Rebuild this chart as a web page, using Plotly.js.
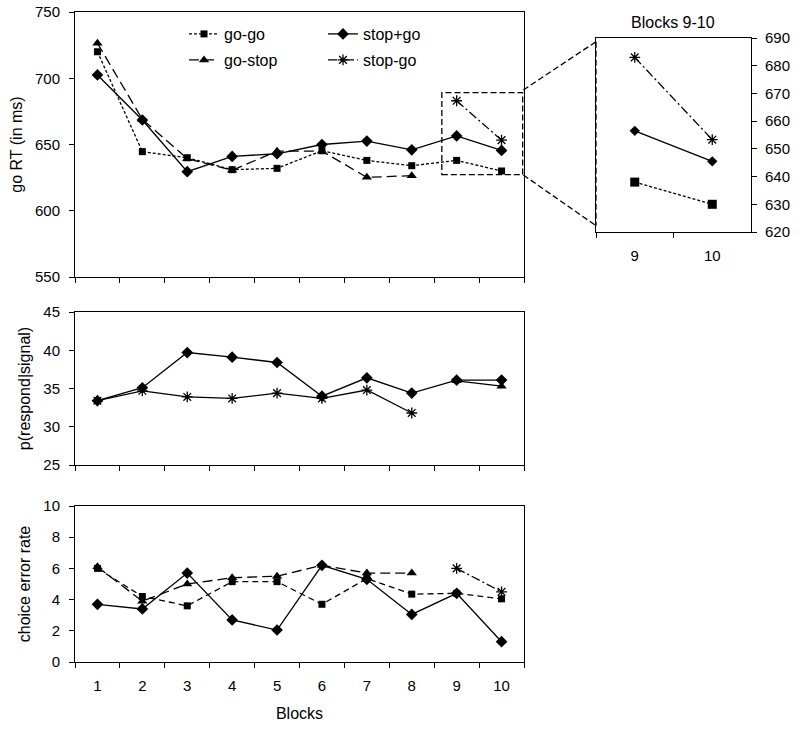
<!DOCTYPE html>
<html>
<head>
<meta charset="utf-8">
<script src="https://cdn.plot.ly/plotly-3.0.1.min.js"></script>
<style>html,body{margin:0;padding:0;background:#fff;}#chart{width:800px;height:731px;}</style>
</head>
<body>
<div id="chart"></div>
<script>
// ---- data ----
const blocks = ['1','2','3','4','5','6','7','8','9','10'];
const insetBlocks = ['9','10'];

// go RT (in ms)
const rtGoGo      = [720, 644.6, 640, 631, 632, 645.3, 638, 634, 638, 630];
const rtStopPlusGo= [702.5, 668.5, 629.5, 641, 643, 650, 652.6, 646, 656.5, 645.5];
const rtGoStop    = [726.4, 669, 639.3, 630.5, 645, 645, 625.2, 626.5, null, null];
const rtStopGo    = [null, null, null, null, null, null, null, null, 683, 653.3];

// p(respond|signal)
const pStopPlusGo = [33.4, 35.1, 39.7, 39.1, 38.4, 34.0, 36.4, 34.4, 36.1, 36.1];
const pStopGo     = [33.4, 34.7, 33.9, 33.7, 34.4, 33.7, 34.8, 31.8, null, null];
const pGoStop     = [null, null, null, null, null, null, null, null, 36.0, 35.3];

// choice error rate
const errGoGo      = [6.0, 4.2, 3.6, 5.15, 5.15, 3.7, 5.35, 4.35, 4.4, 4.05];
const errStopPlusGo= [3.7, 3.4, 5.7, 2.7, 2.05, 6.2, 5.3, 3.05, 4.4, 1.3];
const errGoStop    = [6.1, 3.9, 5.0, 5.4, 5.5, 6.2, 5.7, 5.7, null, null];
const errStopGo    = [null, null, null, null, null, null, null, null, 6.0, 4.5];

// ---- styles ----
const FONT = 'Arial, "Liberation Sans", sans-serif';
const W = 800, H = 731;
const px = x => x / W;
const py = y => 1 - y / H;

const sty = {
  gogo:    {dash: '3px,2px',   sym: 'square',        size: 7},
  stopgo2: {dash: 'solid',     sym: 'diamond',       size: 9},
  gostop:  {dash: '10px,5px',  sym: 'triangle-up',   size: 9},
  stopgo:  {dash: '9px,3px,2px,3px', sym: 'asterisk-open', size: 9}
};

function tr(name, x, y, s, xa, ya, opts) {
  opts = opts || {};
  const t = {
    type: 'scatter', mode: 'lines+markers', name: name,
    x: x, y: y, xaxis: xa, yaxis: ya,
    line: {color: '#000', width: 1.3, dash: opts.dash || s.dash},
    marker: {symbol: s.sym, size: opts.size || s.size, color: '#000',
             line: {color: '#000', width: s.sym === 'asterisk-open' ? 1.3 : 0}},
    connectgaps: false,
    showlegend: !!opts.legend,
    hoverinfo: 'x+y'
  };
  if (opts.legend) t.legend = opts.legend;
  return t;
}

const data = [
  // top panel
  tr('go-go', blocks, rtGoGo, sty.gogo, 'x', 'y', {legend: 'legend'}),
  tr('stop+go', blocks, rtStopPlusGo, sty.stopgo2, 'x', 'y', {legend: 'legend2'}),
  tr('go-stop', blocks, rtGoStop, sty.gostop, 'x', 'y', {legend: 'legend3'}),
  tr('stop-go', blocks, rtStopGo, sty.stopgo, 'x', 'y', {legend: 'legend4'}),
  // middle panel
  tr('stop+go', blocks, pStopPlusGo, sty.stopgo2, 'x2', 'y2', {dash: 'solid'}),
  tr('stop-go', blocks, pStopGo, sty.stopgo, 'x2', 'y2', {dash: 'solid'}),
  tr('go-stop', blocks, pGoStop, sty.gostop, 'x2', 'y2', {dash: 'solid'}),
  // bottom panel
  tr('go-go', blocks, errGoGo, sty.gogo, 'x3', 'y3', {dash: '6px,4px'}),
  tr('go-stop', blocks, errGoStop, sty.gostop, 'x3', 'y3'),
  tr('stop+go', blocks, errStopPlusGo, sty.stopgo2, 'x3', 'y3'),
  tr('stop-go', blocks, errStopGo, sty.stopgo, 'x3', 'y3'),
  // inset (blocks 9-10)
  tr('stop-go', insetBlocks, rtStopGo.slice(8), sty.stopgo, 'x4', 'y4'),
  tr('stop+go', insetBlocks, rtStopPlusGo.slice(8), sty.stopgo2, 'x4', 'y4', {size: 8}),
  tr('go-go', insetBlocks, rtGoGo.slice(8), sty.gogo, 'x4', 'y4', {size: 9})
];

const tickFont = {family: FONT, size: 15, color: '#000'};
const titleFont = {family: FONT, size: 16, color: '#000'};

function xax(domain, showLabels, anchor, cats, title) {
  const a = {
    domain: domain, anchor: anchor, type: 'category',
    categoryorder: 'array', categoryarray: cats,
    range: [-0.5, cats.length - 0.5],
    tickson: 'boundaries', ticks: 'outside', ticklen: 5, tickwidth: 1, tickcolor: '#000',
    ticklabelstandoff: 10,
    showline: true, linecolor: '#000', linewidth: 1, mirror: true,
    showgrid: false, zeroline: false, showticklabels: showLabels,
    tickfont: tickFont, fixedrange: true
  };
  if (title) a.title = {text: title, font: titleFont, standoff: 14};
  return a;
}
function yax(domain, range, dtick, anchor, title, side) {
  const a = {
    domain: domain, anchor: anchor, range: range, dtick: dtick, tick0: range[0],
    ticks: 'outside', ticklen: 5, tickwidth: 1, tickcolor: '#000',
    ticklabelstandoff: side === 'right' ? 5 : 6,
    showline: true, linecolor: '#000', linewidth: 1, mirror: true,
    showgrid: false, zeroline: false, tickfont: tickFont, fixedrange: true,
    side: side || 'left'
  };
  if (title) a.title = {text: title, font: titleFont, standoff: 8};
  return a;
}

const xd = [px(75), px(524)];
const legendCommon = {bgcolor: 'rgba(0,0,0,0)', borderwidth: 0, font: {family: FONT, size: 16, color: '#000'},
                      xanchor: 'left', yanchor: 'middle', orientation: 'v'};

const layout = {
  width: W, height: H,
  margin: {l: 0, r: 0, t: 0, b: 0},
  paper_bgcolor: '#fff', plot_bgcolor: '#fff',
  font: {family: FONT, size: 15, color: '#000'},
  xaxis:  xax(xd, false, 'y', blocks),
  yaxis:  yax([py(277), py(12)], [550, 750], 50, 'x', 'go RT (in ms)'),
  xaxis2: xax(xd, false, 'y2', blocks),
  yaxis2: yax([py(465), py(312)], [25, 45], 5, 'x2', 'p(respond|signal)'),
  xaxis3: xax(xd, true, 'y3', blocks, 'Blocks'),
  yaxis3: yax([py(662), py(506)], [0, 10], 2, 'x3', 'choice error rate'),
  xaxis4: xax([px(596), px(751)], true, 'y4', insetBlocks),
  yaxis4: yax([py(232), py(38)], [620, 690], 10, 'x4', null, 'right'),
  legend:  Object.assign({}, legendCommon, {x: px(184), y: py(34)}),
  legend2: Object.assign({}, legendCommon, {x: px(323), y: py(34)}),
  legend3: Object.assign({}, legendCommon, {x: px(184), y: py(60)}),
  legend4: Object.assign({}, legendCommon, {x: px(323), y: py(60)}),
  annotations: [
    {text: 'Blocks 9-10', xref: 'paper', yref: 'paper', x: px(673), y: py(22),
     xanchor: 'center', yanchor: 'middle', showarrow: false, font: titleFont}
  ],
  shapes: [
    // zoom box around blocks 9-10 in the top panel
    {type: 'rect', xref: 'x', yref: 'y', x0: 7.67, x1: 9.47, y0: 627.2, y1: 689.1,
     line: {color: '#000', width: 1.3, dash: '6px,3px'}},
    // connectors to inset
    {type: 'line', xref: 'paper', yref: 'paper', x0: px(523.3), y0: py(90), x1: px(596), y1: py(41.7),
     line: {color: '#000', width: 1.3, dash: '6px,3px'}},
    {type: 'line', xref: 'paper', yref: 'paper', x0: px(523.3), y0: py(175), x1: px(596), y1: py(225.7),
     line: {color: '#000', width: 1.3, dash: '6px,3px'}},
    {type: 'line', xref: 'paper', yref: 'paper', x0: px(596), y0: py(41.7), x1: px(596), y1: py(225.7),
     line: {color: '#000', width: 1.3, dash: '6px,3px'}}
  ]
};

Plotly.newPlot('chart', data, layout, {displayModeBar: false, staticPlot: true});
</script>
</body>
</html>
